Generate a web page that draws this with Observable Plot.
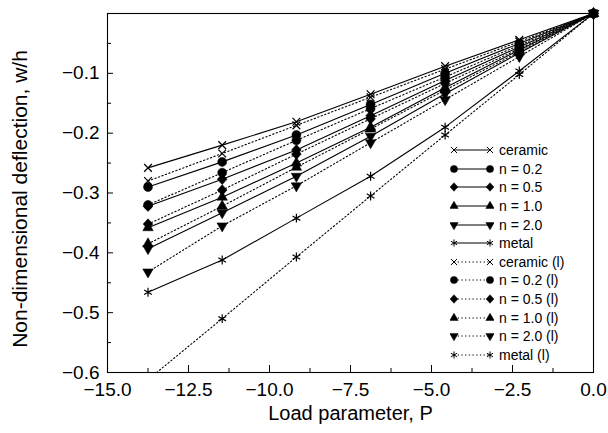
<!DOCTYPE html>
<html><head><meta charset="utf-8">
<script src="https://cdn.jsdelivr.net/npm/d3@7"></script>
<script src="https://cdn.jsdelivr.net/npm/@observablehq/plot@0.6"></script>
<style>
body{margin:0;background:#fff;}
#wrap{position:relative;width:608px;height:433px;font-family:"Liberation Sans",Arial,sans-serif;color:#000;}
#legend{position:absolute;left:450px;top:141px;}
.row{display:flex;align-items:center;height:18.6px;font-size:14px;white-space:nowrap;}
.row svg{margin-right:5px;display:block}
</style></head><body><div id="wrap"></div>
<script>
// ---- data ----
const P = [-13.75, -11.46, -9.17, -6.88, -4.58, -2.29, 0];
const ceramic  = [-0.258, -0.220, -0.181, -0.135, -0.088, -0.044, 0];
const n02      = [-0.290, -0.248, -0.203, -0.152, -0.100, -0.050, 0];
const n05      = [-0.322, -0.277, -0.228, -0.171, -0.112, -0.056, 0];
const n10      = [-0.358, -0.307, -0.250, -0.190, -0.124, -0.061, 0];
const n20      = [-0.393, -0.333, -0.272, -0.205, -0.134, -0.066, 0];
const metal    = [-0.466, -0.412, -0.342, -0.272, -0.190, -0.096, 0];
const ceramicL = [-0.280, -0.234, -0.187, -0.140, -0.093, -0.047, 0];
const n02L     = [-0.320, -0.266, -0.212, -0.159, -0.106, -0.053, 0];
const n05L     = [-0.352, -0.295, -0.235, -0.176, -0.117, -0.059, 0];
const n10L     = [-0.385, -0.322, -0.257, -0.193, -0.128, -0.064, 0];
const n20L     = [-0.432, -0.355, -0.288, -0.216, -0.144, -0.072, 0];
const metalL   = [-0.612, -0.510, -0.407, -0.305, -0.203, -0.102, 0];
const seriesNames = ["ceramic", "n = 0.2", "n = 0.5", "n = 1.0", "n = 2.0", "metal",
  "ceramic (l)", "n = 0.2 (l)", "n = 0.5 (l)", "n = 1.0 (l)", "n = 2.0 (l)", "metal (l)"];
const seriesValues = [ceramic, n02, n05, n10, n20, metal, ceramicL, n02L, n05L, n10L, n20L, metalL];
const xTicks = [-15, -12.5, -10, -7.5, -5, -2.5, 0];
const xMinor = [-13.75, -11.25, -8.75, -6.25, -3.75, -1.25];
const yTicks = [-0.1, -0.2, -0.3, -0.4, -0.5, -0.6];
const yMinor = [-0.05, -0.15, -0.25, -0.35, -0.45, -0.55];
const xTitle = "Load parameter, P";
const yTitle = "Non-dimensional deflection, w/h";

// ---- styles ----
const sqrt3 = Math.sqrt(3);
const triDown = {draw(ctx, size) {
  const y = -Math.sqrt(size / (sqrt3 * 3));
  ctx.moveTo(0, -2 * y); ctx.lineTo(-sqrt3 * y, y); ctx.lineTo(sqrt3 * y, y); ctx.closePath();
}};
const rhombus = {draw(ctx, size) {
  const a = Math.sqrt(size / 2);
  ctx.moveTo(0, -a * 1.1); ctx.lineTo(a, 0); ctx.lineTo(0, a * 1.1); ctx.lineTo(-a, 0); ctx.closePath();
}};
const markerStyles = [
  {symbol: d3.symbolTimes, r: 3.6, filled: false},
  {symbol: d3.symbolCircle, r: 4.5, filled: true},
  {symbol: rhombus, r: 3.9, filled: true},
  {symbol: d3.symbolTriangle, r: 3.9, filled: true},
  {symbol: triDown, r: 3.9, filled: true},
  {symbol: d3.symbolAsterisk, r: 4.2, filled: false}
];
const seriesDashed = seriesNames.map(n => n.endsWith("(l)"));
const seriesMarker = seriesNames.map((n, i) => markerStyles[i % 6]);
const DOT = "1.3,2.4";

const W = 608, H = 433, mL = 107, mR = 15, mT = 13, mB = 61;
const fw = W - mL - mR, fh = H - mT - mB;

const marks = [Plot.frame({stroke: "black", strokeWidth: 1.1})];
seriesValues.forEach((vals, k) => {
  const data = P.map((p, i) => ({P: p, w: vals[i]}));
  const m = seriesMarker[k];
  const needClip = vals.some(v => v < -0.6);
  marks.push(Plot.line(data, {x: "P", y: "w", stroke: "black", strokeWidth: 1.1,
    strokeDasharray: seriesDashed[k] ? DOT : null, clip: true}));
  marks.push(Plot.dot(data, {x: "P", y: "w", symbol: m.symbol, r: m.r,
    fill: m.filled ? "black" : "none", stroke: "black", strokeWidth: m.filled ? 0.5 : 1.2,
    clip: needClip}));
});
marks.push(
  Plot.tickX(xTicks, {x: d => d, insetTop: fh - 7, stroke: "black"}),
  Plot.tickX(xMinor, {x: d => d, insetTop: fh - 4, stroke: "black"}),
  Plot.tickY(yTicks, {y: d => d, insetRight: fw - 6, stroke: "black"}),
  Plot.tickY(yMinor, {y: d => d, insetRight: fw - 4, stroke: "black"}),
  Plot.axisX(xTicks, {tickSize: 0, tickPadding: 10, tickFormat: d3.format(".1f"), label: null, fontSize: 19}),
  Plot.axisY(yTicks, {tickSize: 0, tickPadding: 8, tickFormat: d3.format(".1f"), label: null, fontSize: 19}),
  Plot.text([xTitle], {text: d => d, frameAnchor: "bottom", dy: 41, lineAnchor: "middle", fontSize: 20}),
  Plot.text([yTitle], {text: d => d, frameAnchor: "left", textAnchor: "middle", lineAnchor: "middle",
    dx: -87, dy: 6, rotate: -90, fontSize: 21})
);

const chart = Plot.plot({
  width: W, height: H, marginLeft: mL, marginRight: mR, marginTop: mT, marginBottom: mB,
  x: {domain: [-15, 0]},
  y: {domain: [-0.6, 0]},
  style: {fontFamily: "Liberation Sans, Arial, sans-serif", fontSize: "19px", color: "black", background: "white", overflow: "visible"},
  marks
});
const wrap = document.getElementById("wrap");
wrap.appendChild(chart);

// ---- legend ----
const legend = d3.select(wrap).append("div").attr("id", "legend");
seriesNames.forEach((name, k) => {
  const m = seriesMarker[k];
  const row = legend.append("div").attr("class", "row");
  const svg = row.append("svg").attr("width", 44).attr("height", 14);
  svg.append("line").attr("x1", 4).attr("x2", 40).attr("y1", 7).attr("y2", 7)
    .attr("stroke", "black").attr("stroke-width", 1)
    .attr("stroke-dasharray", seriesDashed[k] ? DOT : null);
  const path = d3.symbol(m.symbol, Math.PI * (m.r * 0.8) ** 2)();
  [4, 40].forEach(cx => {
    svg.append("path").attr("d", path).attr("transform", `translate(${cx},7)`)
      .attr("fill", m.filled ? "black" : "none").attr("stroke", "black")
      .attr("stroke-width", m.filled ? 0.5 : 1);
  });
  row.append("span").text(name);
});
</script>
</body></html>
